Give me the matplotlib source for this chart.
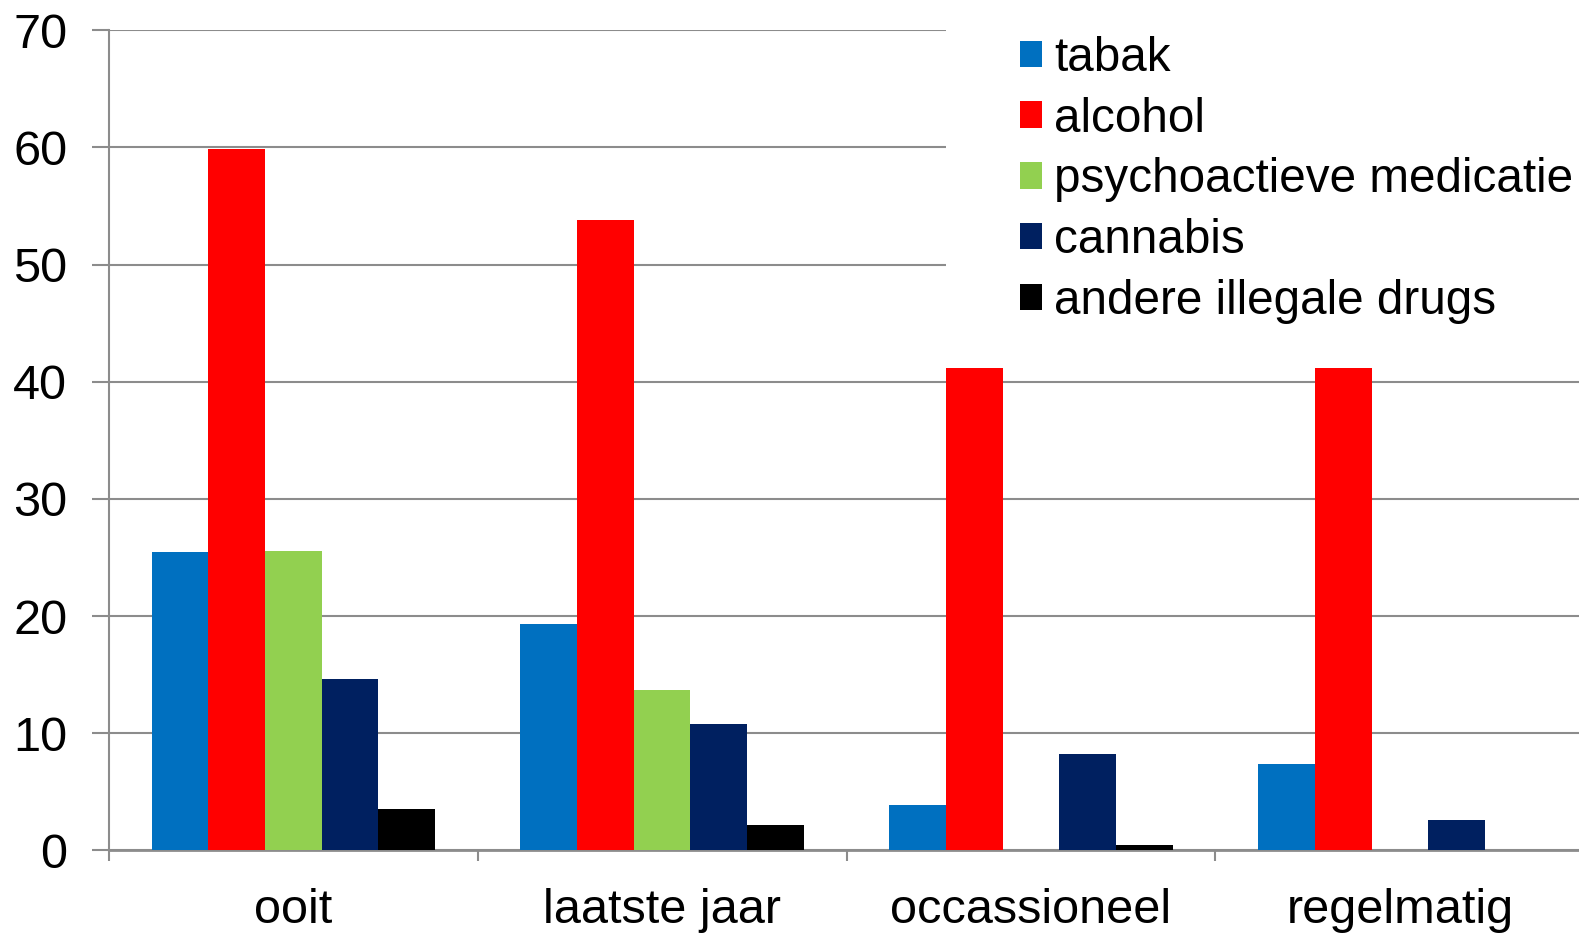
import matplotlib.pyplot as plt
import matplotlib.patches as mpatches
import numpy as np

# data
categories = ["ooit", "laatste jaar", "occassioneel", "regelmatig"]
series = ["tabak", "alcohol", "psychoactieve medicatie", "cannabis", "andere illegale drugs"]
tabak = [25.5, 19.3, 3.9, 7.4]
alcohol = [59.9, 53.8, 41.2, 41.2]
psycho = [25.6, 13.7, 0, 0]
cannabis = [14.6, 10.8, 8.2, 2.6]
andere = [3.5, 2.2, 0.5, 0]
colors = ["#0070C0", "#FF0000", "#92D050", "#002060", "#000000"]

plt.rcParams["font.family"] = ["Liberation Sans", "DejaVu Sans"]

fig = plt.figure(figsize=(15.79, 9.33), dpi=100)
ax = fig.add_axes([0.0689, 0.0885, 0.9345, 0.879])

x = np.arange(len(categories))
w = 0.1536
for j, (name, vals) in enumerate(zip(series, [tabak, alcohol, psycho, cannabis, andere])):
    ax.bar(x + (j - 2) * w, vals, width=w, color=colors[j], label=name, zorder=3)

ax.set_xlim(-0.5, 3.5)
ax.set_ylim(0, 70)
ax.set_yticks(range(0, 71, 10))
ax.grid(axis="y", color="#8c8c8c", linewidth=1.5)

# white box behind the legend hides the top gridlines
ax.add_patch(mpatches.Rectangle((2 - 1.5 * w, 45), 2.5, 30, facecolor="white",
                                edgecolor="none", zorder=2, clip_on=False))

ax.set_xticks(x)
ax.set_xticklabels(categories)
ax.set_xticks(np.arange(-0.5, 3.6, 1), minor=True)
ax.tick_params(axis="x", which="major", length=0, pad=27, labelsize=35)
ax.tick_params(axis="x", which="minor", length=8, width=1.5, color="#8c8c8c")
ax.tick_params(axis="y", length=12, width=1.5, color="#8c8c8c", pad=18, labelsize=35)

for s in ["top", "right"]:
    ax.spines[s].set_visible(False)
ax.spines["left"].set_color("#8c8c8c")
ax.spines["left"].set_linewidth(1.5)
ax.spines["bottom"].set_color("#8c8c8c")
ax.spines["bottom"].set_linewidth(2)

ax.legend(loc="upper left", bbox_to_anchor=(0.6457, 0.9615), bbox_transform=fig.transFigure,
          frameon=False, fontsize=34.3, handlelength=0.48, handleheight=0.48,
          handletextpad=0.25, labelspacing=0.33, borderpad=0, borderaxespad=0)

fig.savefig("out.png", dpi=100)
